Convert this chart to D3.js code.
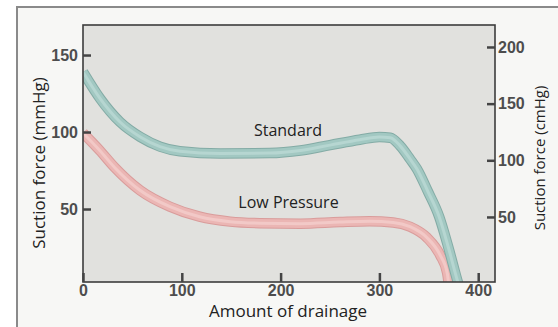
<!DOCTYPE html>
<html>
<head>
<meta charset="utf-8">
<script src="https://cdn.jsdelivr.net/npm/d3@7"></script>
<style>
  body { margin: 0; background: #fff; }
  svg { display: block; }
</style>
</head>
<body>
<script>
var width = 558,
    height = 327;

// values (left axis, mmHg)
var standardX = [0, 17, 37.5, 58, 78, 98, 139, 189, 220, 250, 280, 300, 311, 321, 331, 338, 349, 360.5, 369.6, 378.7, 385];
var standardY = [139, 122, 106.5, 96.8, 90.5, 87.5, 86, 86.3, 88, 91.5, 95, 96.8, 96.3, 91, 82.5, 76, 61.5, 45, 25.5, 4, -10];
var lowX = [0, 17, 32, 58, 88, 118, 149, 179, 220, 260, 290, 314, 331, 348, 361.5, 368.6, 372];
var lowY = [99.4, 88, 77, 62, 51.5, 45, 41.8, 40.8, 40.5, 41.5, 42, 41.3, 38.5, 31.5, 20, 8.5, -10];

var xTicks = [0, 100, 200, 300, 400];
var leftTicks = [50, 100, 150];
var rightTicks = [50, 100, 150, 200];

var plot = { left: 83, top: 25, right: 495, bottom: 282 };

var svg = d3.select('body').append('svg')
    .attr('width', width)
    .attr('height', height);

// outer frame
svg.append('rect')
    .attr('x', 17).attr('y', 7)
    .attr('width', 560).attr('height', 340)
    .attr('fill', '#f7f7f5')
    .attr('stroke', '#8a8a8a')
    .attr('stroke-width', 2);

var x = d3.scaleLinear().domain([0, 417]).range([plot.left, plot.right]);
var y = d3.scaleLinear().domain([2.6, 169.5]).range([plot.bottom, plot.top]);
var yRight = d3.scaleLinear().domain([-7.4, 219.4]).range([plot.bottom, plot.top]);

svg.append('clipPath').attr('id', 'clip')
    .append('rect')
    .attr('x', plot.left).attr('y', plot.top)
    .attr('width', plot.right - plot.left)
    .attr('height', plot.bottom - plot.top);

svg.append('rect')
    .attr('x', plot.left).attr('y', plot.top)
    .attr('width', plot.right - plot.left)
    .attr('height', plot.bottom - plot.top)
    .attr('fill', '#e1e1de');

var line = d3.line()
    .x(function(d){ return x(d[0]); })
    .y(function(d){ return y(d[1]); })
    .curve(d3.curveMonotoneX);

function tube(xs, ys, edge, body, light) {
  var pts = xs.map(function(v, i){ return [v, ys[i]]; });
  var g = svg.append('g').attr('clip-path', 'url(#clip)');
  [[10.5, edge], [8.5, body], [3, light]].forEach(function(s){
    g.append('path')
      .attr('d', line(pts))
      .attr('fill', 'none')
      .attr('stroke', s[1])
      .attr('stroke-width', s[0]);
  });
}

tube(lowX, lowY, '#d99c9b', '#ebb6b4', '#f2c9c7');
tube(standardX, standardY, '#83aba5', '#a2c8c2', '#b6d6d1');

// plot border
svg.append('rect')
    .attr('x', plot.left).attr('y', plot.top)
    .attr('width', plot.right - plot.left)
    .attr('height', plot.bottom - plot.top)
    .attr('fill', 'none')
    .attr('stroke', '#3c3c3c')
    .attr('stroke-width', 1.6);

function styleAxis(g) {
  g.select('.domain').remove();
  g.selectAll('.tick line').attr('stroke', '#444').attr('stroke-width', 2.5);
  g.selectAll('.tick text')
    .attr('fill', '#4d4d4d')
    .style('font-family', '"Liberation Sans", Arial, sans-serif')
    .style('font-weight', 'bold')
    .style('font-size', '16px');
}

svg.append('g')
    .attr('transform', 'translate(0,' + plot.bottom + ')')
    .call(d3.axisBottom(x).tickValues(xTicks).tickSize(-9).tickPadding(3))
    .call(styleAxis);

svg.append('g')
    .attr('transform', 'translate(' + plot.left + ',0)')
    .call(d3.axisLeft(y).tickValues(leftTicks).tickSize(-8).tickPadding(5))
    .call(styleAxis);

svg.append('g')
    .attr('transform', 'translate(' + plot.right + ',0)')
    .call(d3.axisRight(yRight).tickValues(rightTicks).tickSize(-8).tickPadding(3))
    .call(styleAxis);

var font = '"Open Sans", "Noto Sans", sans-serif';

svg.append('text').text('Standard')
    .attr('x', 288).attr('y', 136)
    .attr('text-anchor', 'middle')
    .style('font-family', font).style('font-size', '16px')
    .attr('fill', '#222');

svg.append('text').text('Low Pressure')
    .attr('x', 288.5).attr('y', 208)
    .attr('text-anchor', 'middle')
    .style('font-family', font).style('font-size', '16px')
    .attr('fill', '#222');

svg.append('text').text('Amount of drainage')
    .attr('x', 288).attr('y', 317)
    .attr('text-anchor', 'middle')
    .style('font-family', font).style('font-size', '17px')
    .attr('fill', '#222');

svg.append('text').text('Suction force (mmHg)')
    .attr('transform', 'translate(45,163) rotate(-90)')
    .attr('text-anchor', 'middle')
    .style('font-family', font).style('font-size', '17px')
    .attr('fill', '#222');

svg.append('text').text('Suction force (cmHg)')
    .attr('transform', 'translate(545,158) rotate(-90)')
    .attr('text-anchor', 'middle')
    .style('font-family', font).style('font-size', '15px')
    .attr('fill', '#222');
</script>
</body>
</html>
